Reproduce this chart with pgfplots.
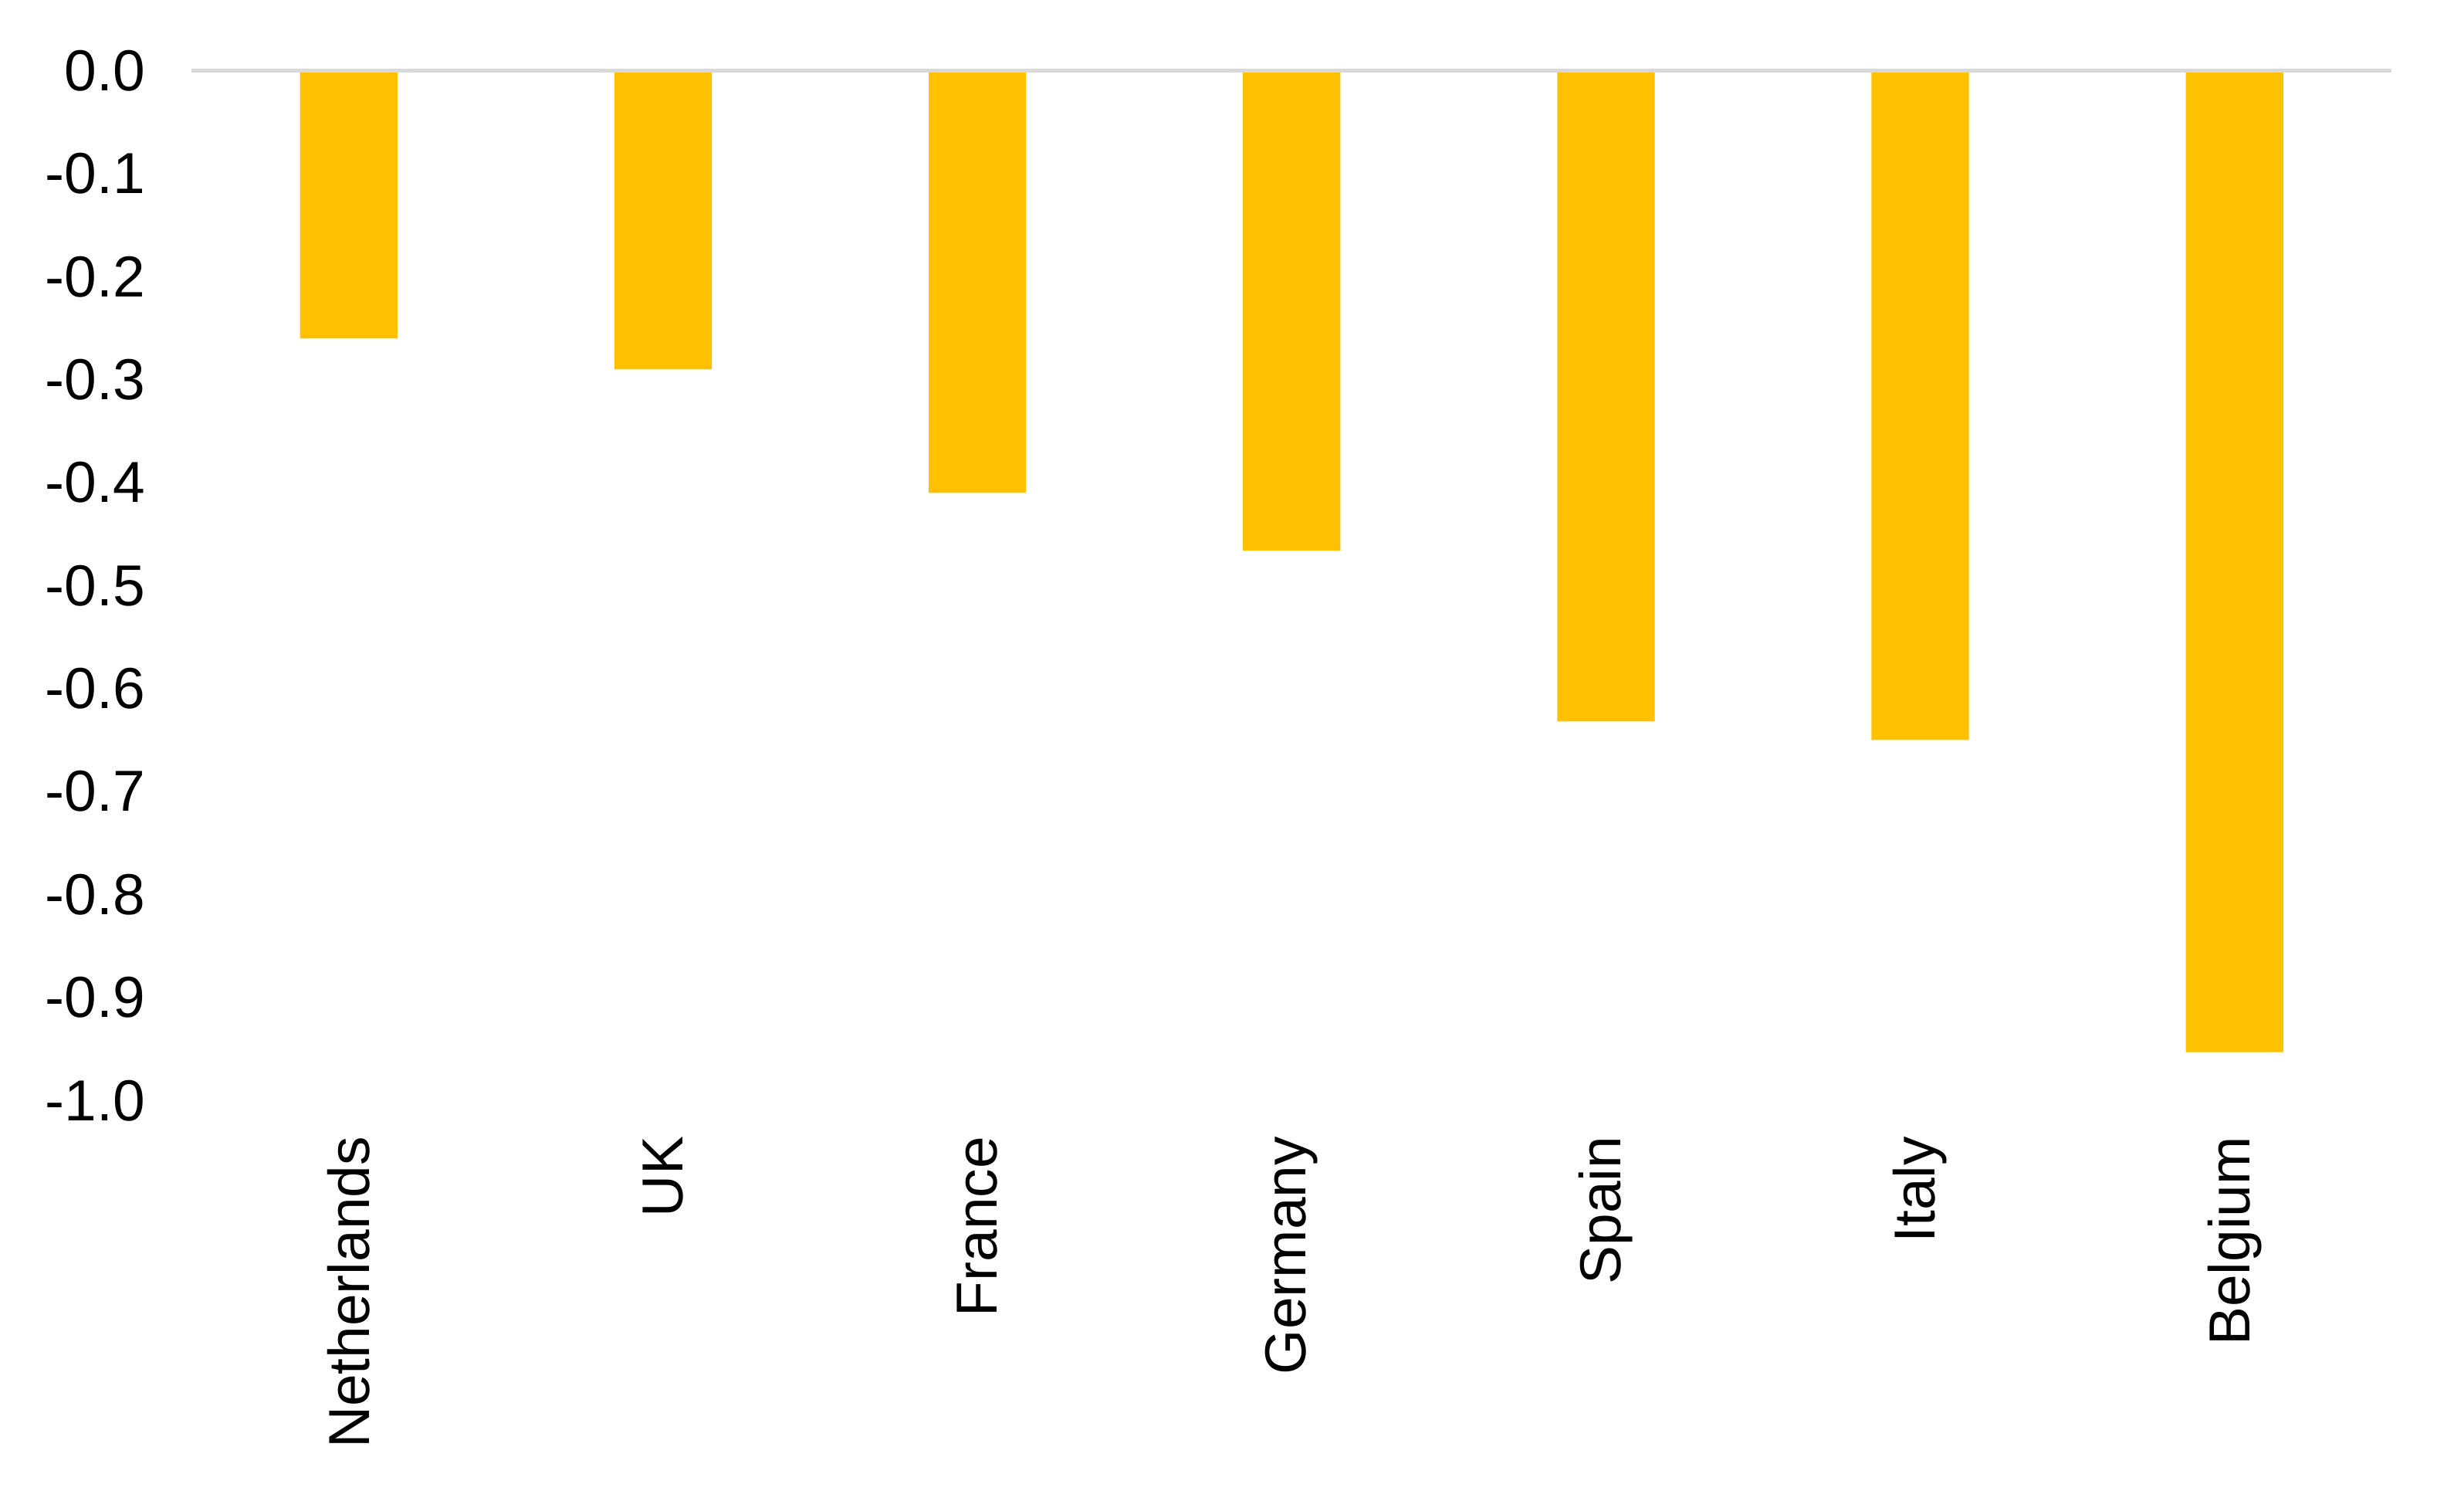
\documentclass[border=0pt]{standalone}
\usepackage{fontspec}
\setmainfont{Liberation Sans}
\usepackage{pgfplots}
\pgfplotsset{compat=1.18}
\definecolor{baryellow}{HTML}{FFC000}
\definecolor{zeroline}{HTML}{D9D9D9}
\begin{document}
\begin{tikzpicture}
\begin{axis}[
    ybar,
    width=380.4pt, height=178pt,
    scale only axis,
    xmin=-0.5, xmax=6.5,
    ymin=-1, ymax=0,
    xtick=data,
    xticklabels={Netherlands,UK,France,Germany,Spain,Italy,Belgium},
    ytick={-1,-0.9,-0.8,-0.7,-0.6,-0.5,-0.4,-0.3,-0.2,-0.1,0},
    yticklabel style={xshift=-4.5pt,
        /pgf/number format/fixed,
        /pgf/number format/fixed zerofill,
        /pgf/number format/precision=1,
        /pgf/number format/assume math mode=true},
    tick label style={font=\fontsize{10}{12}\selectfont, black},
    xticklabel style={rotate=90, anchor=east, xshift=-2.7pt},
    major tick length=0pt,
    axis line style={draw=none},
    bar width=0.31,
    clip=false,
]
\addplot[fill=baryellow, draw=none] coordinates {
    (0,-0.26) (1,-0.29) (2,-0.41) (3,-0.466) (4,-0.632) (5,-0.65) (6,-0.953)
};
\draw[zeroline, line width=0.7pt] (rel axis cs:0,1) -- (rel axis cs:1,1);
\path (rel axis cs:-0.0871,-0.3786) rectangle (rel axis cs:1.0329,1.0687);
\end{axis}
\end{tikzpicture}
\end{document}
